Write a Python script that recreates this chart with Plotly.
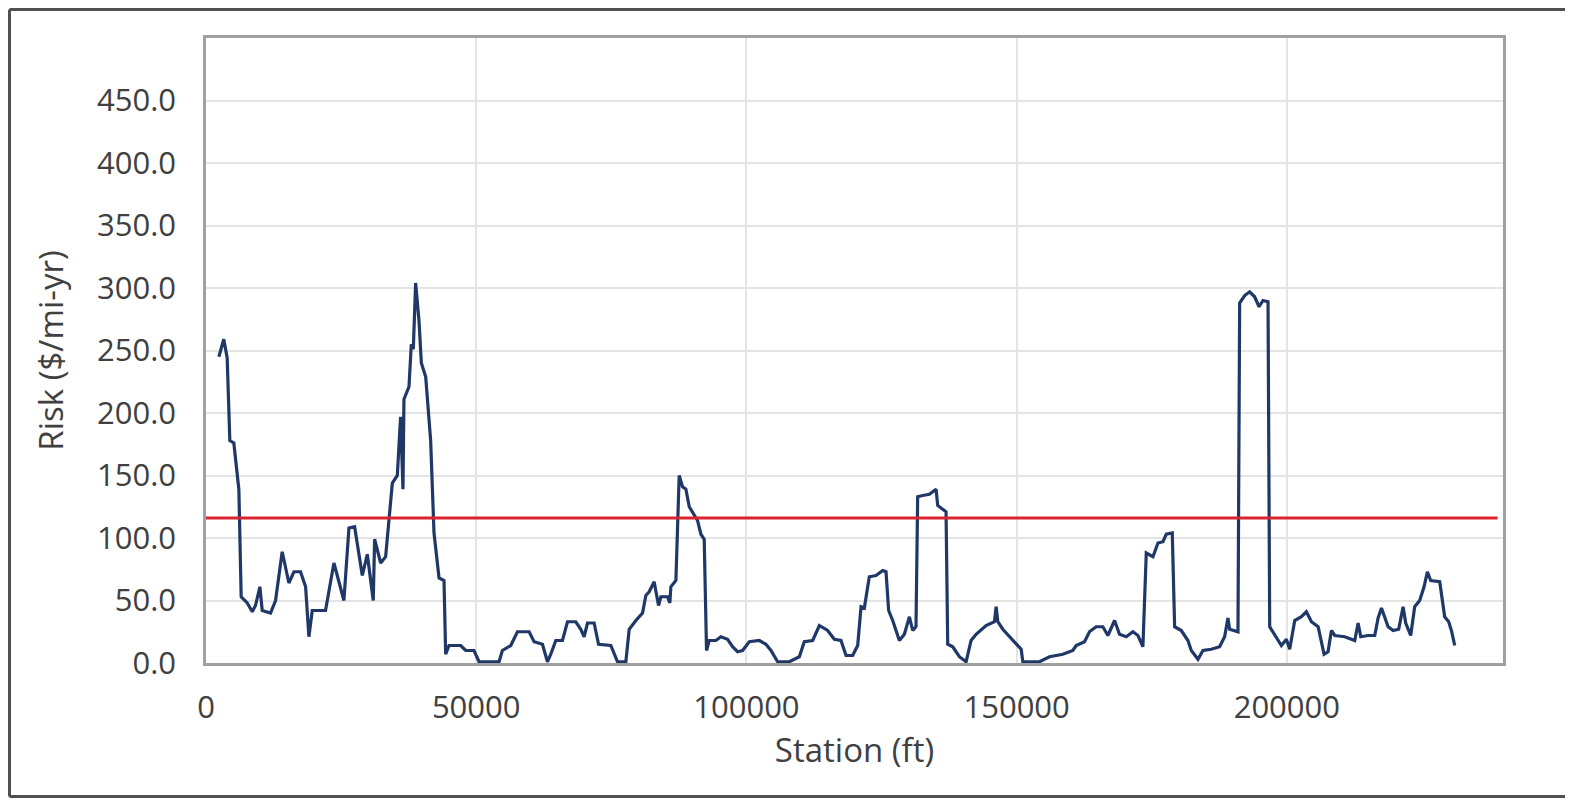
import plotly.graph_objects as go

station_ft = [
    2380, 3290, 3920, 4410, 5150, 6080, 6510, 7630, 8560, 9160, 9970, 10400, 11940, 12870,
    14100, 15340, 16270, 17500, 18430, 19040, 19660, 22120, 23670, 25520, 26450, 27500,
    28920, 29850, 30950, 31200, 32320, 33240, 34480, 35400, 36010, 36450, 36630, 37560,
    37990, 38360, 38790, 39410, 39850, 40650, 41570, 42190, 43120, 44040, 44350, 44970,
    47130, 48060, 49590, 50520, 54230, 54840, 56390, 57630, 59790, 60710, 62260, 63180,
    63800, 64720, 65960, 66890, 68420, 69350, 69970, 70590, 71820, 72640, 74910, 76150,
    77690, 78310, 79540, 80780, 81390, 82000, 82930, 83740, 84170, 85400, 85830, 86020,
    86950, 87260, 87560, 88180, 88800, 89420, 90340, 90960, 91580, 92190, 92620, 93110,
    94350, 95280, 96510, 97440, 98360, 99290, 100530, 102380, 103610, 104540, 105780,
    107940, 109790, 110710, 112260, 113500, 115030, 116270, 117500, 118430, 119660,
    120590, 121210, 121820, 122740, 123980, 125220, 125830, 126320, 127070, 128300,
    129230, 130160, 130770, 131380, 131690, 132610, 133850, 135090, 135400, 136320,
    136940, 137250, 138180, 139410, 140650, 141570, 142500, 144350, 145900, 146210,
    146520, 147440, 148680, 149910, 150840, 151150, 154230, 156080, 158550, 160400,
    161020, 162560, 163480, 164720, 165960, 166890, 168120, 169040, 170280, 171520,
    172450, 173370, 173990, 175230, 176150, 177080, 177690, 178800, 179240, 180470,
    181700, 182320, 183560, 184480, 186020, 187560, 188490, 189100, 189420, 190960,
    191270, 192200, 193120, 194040, 194860, 195580, 196520, 196830, 198060, 198990,
    199920, 200530, 201460, 202700, 203620, 204550, 205790, 206890, 207630, 208250,
    208870, 210720, 212570, 213190, 213680, 215040, 216270, 216890, 217510, 218130,
    218740, 219670, 220700, 221510, 222000, 222920, 223660, 224580, 225390, 226010,
    226620, 228290, 229210, 229950, 230450, 231070,
]

risk = [
    245, 259, 244, 178, 176, 139, 53, 48, 41, 46, 61, 42, 40, 50,
    89, 64, 73, 73, 61, 21, 42, 42, 80, 50, 108, 109,
    70, 87, 50, 99, 80, 85, 144, 150, 197, 139, 211, 221,
    255, 251, 304, 274, 240, 229, 178, 104, 68, 66, 7, 14,
    14, 10, 10, 1, 1, 10, 14, 25, 25, 17, 15, 1,
    7, 18, 18, 33, 33, 27, 21, 32, 32, 15, 14, 1,
    1, 27, 34, 40, 54, 57, 65, 46, 53, 53, 48, 61,
    66, 104, 150, 141, 139, 125, 118, 114, 103, 99, 10, 18,
    18, 21, 19, 13, 9, 10, 17, 18, 15, 10, 1,
    1, 5, 17, 18, 30, 26, 19, 18, 6, 6,
    14, 45, 44, 69, 70, 74, 73, 42, 34, 18,
    23, 37, 26, 29, 133, 134, 135, 139, 126, 123,
    121, 15, 13, 5, 1, 18, 23, 30, 33, 45,
    33, 27, 21, 15, 11, 1, 1, 5, 7, 10,
    14, 17, 25, 29, 29, 22, 34, 23, 21, 25,
    22, 13, 88, 85, 96, 97, 103, 104, 29, 26,
    18, 10, 3, 10, 11, 13, 21, 36, 27, 25,
    288, 294, 297, 293, 285, 290, 289, 29, 21, 14,
    19, 11, 34, 37, 41, 33, 29, 7, 9, 26,
    22, 21, 18, 32, 21, 22, 22, 36, 44, 37,
    29, 26, 27, 45, 32, 22, 45, 50, 61, 73,
    66, 65, 37, 33, 26, 14,
]

threshold_x = [0, 239000]
threshold_y = [116, 116]

x_tick_vals = [0, 50000, 100000, 150000, 200000]
x_tick_text = ["0", "50000", "100000", "150000", "200000"]
y_tick_vals = [0, 50, 100, 150, 200, 250, 300, 350, 400, 450]
y_tick_text = ["0.0", "50.0", "100.0", "150.0", "200.0", "250.0", "300.0", "350.0", "400.0", "450.0"]

fig = go.Figure()
fig.add_trace(go.Scatter(x=station_ft, y=risk, mode="lines",
                         line=dict(color="#1f3868", width=3.2), showlegend=False))
fig.add_trace(go.Scatter(x=threshold_x, y=threshold_y, mode="lines",
                         line=dict(color="#d9232e", width=2.8), showlegend=False))

# page has an 8px body margin on every side; size the figure so nothing overflows
W, H = 1557, 790
L, R, T, B = 198, 62, 30, 135
pw, ph = W - L - R, H - T - B

def px2paper_x(px):
    return (px - L) / pw

def px2paper_y(py):
    return (H - B - py) / ph

frame = dict(color="#505050", width=3)
xl, xr = px2paper_x(1.5), px2paper_x(W + 20)
yt, yb = px2paper_y(1.5), px2paper_y(H - 1.5)
fig.add_shape(type="line", xref="paper", yref="paper", x0=xl, x1=xl, y0=yb, y1=yt, line=frame, layer="below")
fig.add_shape(type="line", xref="paper", yref="paper", x0=xl, x1=xr, y0=yt, y1=yt, line=frame, layer="below")
fig.add_shape(type="line", xref="paper", yref="paper", x0=xl, x1=xr, y0=yb, y1=yb, line=frame, layer="below")

FONT = "Open Sans, Noto Sans, sans-serif"
tick_font = dict(family=FONT, size=31, color="#404040")
title_font = dict(family=FONT, size=33, color="#404040")

fig.update_layout(
    width=W, height=H,
    margin=dict(l=L, r=R, t=T, b=B),
    paper_bgcolor="white", plot_bgcolor="white",
    xaxis=dict(range=[0, 240000], tickvals=x_tick_vals, ticktext=x_tick_text,
               showgrid=True, gridcolor="#e4e4e4", gridwidth=2,
               showline=True, linecolor="#a0a0a0", linewidth=2.5, mirror=True,
               zeroline=False, ticks="", tickfont=tick_font, ticklabelstandoff=15,
               title=dict(text="Station (ft)", font=title_font, standoff=13)),
    yaxis=dict(range=[0, 500], tickvals=y_tick_vals, ticktext=y_tick_text,
               showgrid=True, gridcolor="#e4e4e4", gridwidth=2,
               showline=True, linecolor="#a0a0a0", linewidth=2.5, mirror=True,
               zeroline=False, ticks="", tickfont=tick_font, ticklabelstandoff=21,
               title=dict(text="Risk ($/mi-yr)", font=title_font, standoff=24)),
)

fig.write_html("out.html")
